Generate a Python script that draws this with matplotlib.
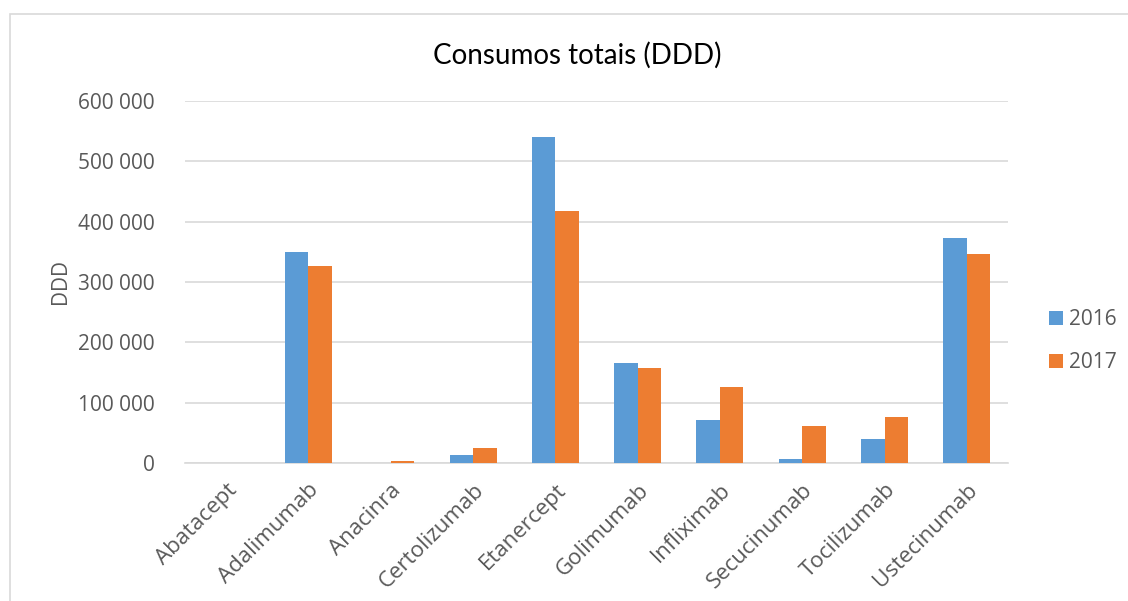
import matplotlib
matplotlib.use("Agg")
import matplotlib.pyplot as plt
import numpy as np
from matplotlib.patches import Rectangle
from matplotlib.ticker import FuncFormatter

categories = ["Abatacept", "Adalimumab", "Anacinra", "Certolizumab", "Etanercept",
              "Golimumab", "Infliximab", "Secucinumab", "Tocilizumab", "Ustecinumab"]
series_names = ["2016", "2017"]
values_2016 = [0, 350000, 0, 13300, 540500, 166000, 71500, 6600, 39500, 373000]
values_2017 = [0, 326000, 2500, 25000, 418000, 157500, 126000, 62000, 76500, 346500]
yticks = [0, 100000, 200000, 300000, 400000, 500000, 600000]

plt.rcParams['font.family'] = ['Open Sans', 'DejaVu Sans']

fig = plt.figure(figsize=(11.28, 6.01), dpi=100)
fig.patches.append(Rectangle((10/1128, -0.1), 1.2, 1.1 - 14/601, transform=fig.transFigure,
                             fill=False, edgecolor="#D9D9D9", linewidth=1.2))
ax = fig.add_axes([185/1128, 1 - 463/601, (1008-185)/1128, (463-101)/601])

x = np.arange(len(categories))
w = 0.285
ax.bar(x - w/2, values_2016, w, color="#5B9BD5", label=series_names[0], zorder=3)
ax.bar(x + w/2, values_2017, w, color="#ED7D31", label=series_names[1], zorder=3)

ax.set_xlim(-0.5, len(categories) - 0.5)
ax.set_ylim(0, 600000)
ax.set_yticks(yticks)
ax.yaxis.set_major_formatter(FuncFormatter(lambda v, p: f"{int(v):,}".replace(",", " ")))
ax.grid(axis="y", color="#D9D9D9", linewidth=1.2, zorder=0)
for s in ["top", "right"]:
    ax.spines[s].set_visible(False)
ax.spines["left"].set_visible(False)
ax.spines["bottom"].set_color("#D9D9D9")
ax.spines["bottom"].set_linewidth(1.2)
ax.tick_params(axis="y", length=0, labelsize=15, labelcolor="#595959", pad=22)
ax.tick_params(axis="x", length=0, labelsize=16, labelcolor="#595959", pad=12)
ax.set_xticks(x)
ax.set_xticklabels(categories, rotation=45, ha="right", va="top", rotation_mode="anchor")
ax.set_ylabel("DDD", fontsize=15, color="#595959", labelpad=5)

fig.text(577/1128, 1 - 55/601, "Consumos totais (DDD)", ha="center", va="center",
         fontsize=20, color="black", family=["Lato", "DejaVu Sans"])

ax.legend(loc="center left", bbox_to_anchor=(1.05, 0.337), frameon=False, fontsize=15,
          labelcolor="#595959", handlelength=0.67, handleheight=0.67, handletextpad=0.3,
          labelspacing=1.05, borderaxespad=0, borderpad=0)

fig.savefig("out.png", dpi=100)
